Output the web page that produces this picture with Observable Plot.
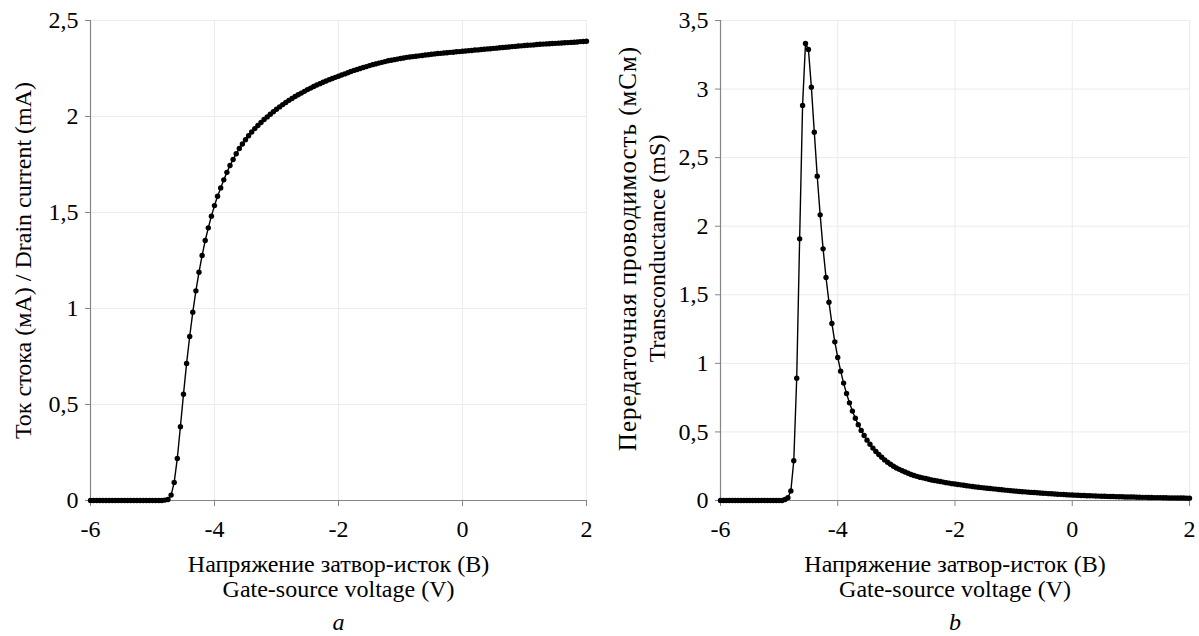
<!DOCTYPE html>
<html><head><meta charset="utf-8">
<script src="https://cdn.jsdelivr.net/npm/d3@7"></script>
<script src="https://cdn.jsdelivr.net/npm/@observablehq/plot@0.6"></script>
<style>
body{margin:0;background:#fff;}
#wrap{position:relative;width:1199px;height:636px;overflow:hidden;background:#fff;}
#a{position:absolute;left:0;top:0;}
#b{position:absolute;left:600px;top:0;}
#wrap svg, #wrap svg text{font-family:"Liberation Serif", "Times New Roman", Times, serif !important;}
</style></head><body><div id="wrap"><div id="a"></div><div id="b"></div></div>
<script>
const voltage = [
-6.00,-5.95,-5.90,-5.85,-5.80,-5.75,-5.70,-5.65,-5.60,-5.55,
-5.50,-5.45,-5.40,-5.35,-5.30,-5.25,-5.20,-5.15,-5.10,-5.05,
-5.00,-4.95,-4.90,-4.85,-4.80,-4.75,-4.70,-4.65,-4.60,-4.55,
-4.50,-4.45,-4.40,-4.35,-4.30,-4.25,-4.20,-4.15,-4.10,-4.05,
-4.00,-3.95,-3.90,-3.85,-3.80,-3.75,-3.70,-3.65,-3.60,-3.55,
-3.50,-3.45,-3.40,-3.35,-3.30,-3.25,-3.20,-3.15,-3.10,-3.05,
-3.00,-2.95,-2.90,-2.85,-2.80,-2.75,-2.70,-2.65,-2.60,-2.55,
-2.50,-2.45,-2.40,-2.35,-2.30,-2.25,-2.20,-2.15,-2.10,-2.05,
-2.00,-1.95,-1.90,-1.85,-1.80,-1.75,-1.70,-1.65,-1.60,-1.55,
-1.50,-1.45,-1.40,-1.35,-1.30,-1.25,-1.20,-1.15,-1.10,-1.05,
-1.00,-0.95,-0.90,-0.85,-0.80,-0.75,-0.70,-0.65,-0.60,-0.55,
-0.50,-0.45,-0.40,-0.35,-0.30,-0.25,-0.20,-0.15,-0.10,-0.05,
0.00,0.05,0.10,0.15,0.20,0.25,0.30,0.35,0.40,0.45,
0.50,0.55,0.60,0.65,0.70,0.75,0.80,0.85,0.90,0.95,
1.00,1.05,1.10,1.15,1.20,1.25,1.30,1.35,1.40,1.45,
1.50,1.55,1.60,1.65,1.70,1.75,1.80,1.85,1.90,1.95,
2.00];

const drainCurrent = [
0,0,0,0,0,0,0,0,0,0,
0,0,0,0,0,0,0,0,0,0,
0,0,0,0,
0.002,0.005,0.028,0.094,0.219,0.384,0.554,0.714,0.854,0.981,
1.092,1.189,1.276,1.354,1.420,1.481,1.536,
1.585,1.628,1.670,1.709,1.745,1.776,1.806,1.833,1.857,1.879,
1.900,1.919,1.937,1.953,1.969,1.984,1.998,2.012,2.025,2.038,
2.050,2.062,2.073,2.084,2.094,2.104,2.113,2.122,2.131,2.140,
2.148,2.156,2.164,2.171,2.178,2.185,2.192,2.198,2.204,2.210,
2.216,2.222,2.228,2.234,2.240,2.245,2.250,2.255,2.260,2.265,
2.270,2.274,2.278,2.282,2.286,2.290,2.293,2.296,2.299,2.302,
2.305,2.308,2.310,2.312,2.314,2.316,2.318,2.320,2.322,2.324,
2.326,2.328,2.329,2.331,2.332,2.334,2.335,2.337,2.338,2.340,
2.341,2.343,2.344,2.346,2.347,2.349,2.350,2.352,2.353,2.355,
2.356,2.358,2.359,2.361,2.362,2.364,2.365,2.367,2.368,2.370,
2.371,2.372,2.373,2.375,2.376,2.377,2.378,2.379,2.380,2.381,
2.382,2.383,2.384,2.385,2.386,2.387,2.388,2.390,2.391,2.392];

const transconductance = [
0,0,0,0,0,0,0,0,0,0,
0,0,0,0,0,0,0,0,0,0,
0,0,
0.007,0.020,0.070,0.290,0.892,1.908,2.881,3.333,3.289,3.014,
2.686,2.365,2.083,1.835,1.626,1.446,1.291,1.157,1.043,
0.943,0.856,0.780,0.712,0.652,0.600,0.553,0.511,0.474,0.440,
0.410,0.382,0.357,0.335,0.315,0.296,0.279,0.264,0.250,0.237,
0.227,0.217,0.208,0.199,0.190,0.182,0.176,0.170,0.165,0.160,
0.155,0.150,0.146,0.142,0.138,0.134,0.130,0.127,0.123,0.120,
0.117,0.114,0.111,0.108,0.105,0.102,0.099,0.097,0.094,0.092,
0.089,0.087,0.085,0.083,0.080,0.078,0.076,0.074,0.072,0.070,
0.068,0.066,0.064,0.063,0.061,0.059,0.058,0.056,0.055,0.053,
0.052,0.050,0.049,0.047,0.046,0.045,0.044,0.042,0.041,0.040,
0.039,0.038,0.037,0.036,0.035,0.035,0.034,0.033,0.032,0.031,
0.031,0.030,0.029,0.029,0.028,0.027,0.027,0.026,0.026,0.025,
0.025,0.024,0.024,0.023,0.023,0.022,0.022,0.021,0.021,0.021,
0.020,0.020,0.019,0.019,0.019,0.018,0.018,0.018,0.017,0.017];

const xTicks = [-6, -4, -2, 0, 2];
const yTicksA = [0, 0.5, 1, 1.5, 2, 2.5];
const yTicksB = [0, 0.5, 1, 1.5, 2, 2.5, 3, 3.5];
const xTitle = ["Напряжение затвор-исток (В)", "Gate-source voltage (V)"];
const yTitleA = ["Ток стока (мА) / Drain current (mA)"];
const yTitleB = ["Передаточная проводимость (мСм)", "Transconductance (mS)"];
const fmt = d => String(d).replace(".", ",");
const FONT = "Liberation Serif, Times New Roman, serif";

function panel({values, yDomain, yTicks, width, marginLeft, marginRight, yTitle, yTitleDx, yTitleDy, yTitleSize, yTitleSpacing, letter}) {
  const data = voltage.map((v, i) => ({v, y: values[i]}));
  const axisColor = "#858585";
  const gridColor = "#ebebeb";
  const svg = Plot.plot({
    width, height: 636, marginLeft, marginRight, marginTop: 20, marginBottom: 136,
    style: {fontFamily: FONT, fontSize: "24px", background: "white", color: "black", overflow: "visible"},
    x: {domain: [-6, 2]},
    y: {domain: yDomain},
    marks: [
      Plot.gridX(xTicks.slice(1), {stroke: gridColor, strokeOpacity: 1, strokeWidth: 1}),
      Plot.gridY(yTicks.slice(1), {stroke: gridColor, strokeOpacity: 1, strokeWidth: 1}),
      Plot.axisX(xTicks, {tickSize: 6, tickPadding: 13, tickFormat: fmt, stroke: axisColor, fill: "black", label: null, fontFamily: FONT}),
      Plot.axisY(yTicks, {tickSize: 5, tickPadding: 7, tickFormat: fmt, stroke: axisColor, fill: "black", label: null, fontFamily: FONT}),
      Plot.ruleX([-6], {stroke: axisColor, strokeWidth: 1.2}),
      Plot.ruleY([0], {stroke: axisColor, strokeWidth: 1.2}),
      Plot.line(data, {x: "v", y: "y", stroke: "black", strokeWidth: 1.4}),
      Plot.dot(data, {x: "v", y: "y", r: 2.7, fill: "black", stroke: "none"}),
      Plot.text([xTitle[0]], {frameAnchor: "bottom", dy: 71, fill: "black", fontFamily: FONT}),
      Plot.text([xTitle[1]], {frameAnchor: "bottom", dy: 96, fill: "black", fontFamily: FONT}),
      Plot.text([letter], {frameAnchor: "bottom", dy: 129, fill: "black", fontStyle: "italic", fontFamily: FONT}),
      ...yTitle.map((t, i) => Plot.text([t], {frameAnchor: "left", textAnchor: "middle", rotate: -90, dx: yTitleDx[i], dy: yTitleDy, fill: "black", fontFamily: FONT, fontSize: yTitleSize[i]}))
    ]
  });
  // letter spacing for the long Cyrillic axis title, to match the reference's wider glyph run
  svg.querySelectorAll("text").forEach(el => {
    const i = yTitle.indexOf(el.textContent);
    if (i >= 0 && yTitleSpacing[i]) el.setAttribute("letter-spacing", yTitleSpacing[i]);
  });
  return svg;
}

document.getElementById("a").append(panel({
  values: drainCurrent, yDomain: [0, 2.5], yTicks: yTicksA,
  width: 600, marginLeft: 90, marginRight: 14,
  yTitle: yTitleA, yTitleDx: [-67], yTitleDy: 0, yTitleSize: [24], yTitleSpacing: [0], letter: "a"
}));
document.getElementById("b").append(panel({
  values: transconductance, yDomain: [0, 3.5], yTicks: yTicksB,
  width: 599, marginLeft: 120, marginRight: 10,
  yTitle: yTitleB, yTitleDx: [-93, -63], yTitleDy: -12, yTitleSize: [25, 24], yTitleSpacing: ["1px", 0], letter: "b"
}));
</script></body></html>
